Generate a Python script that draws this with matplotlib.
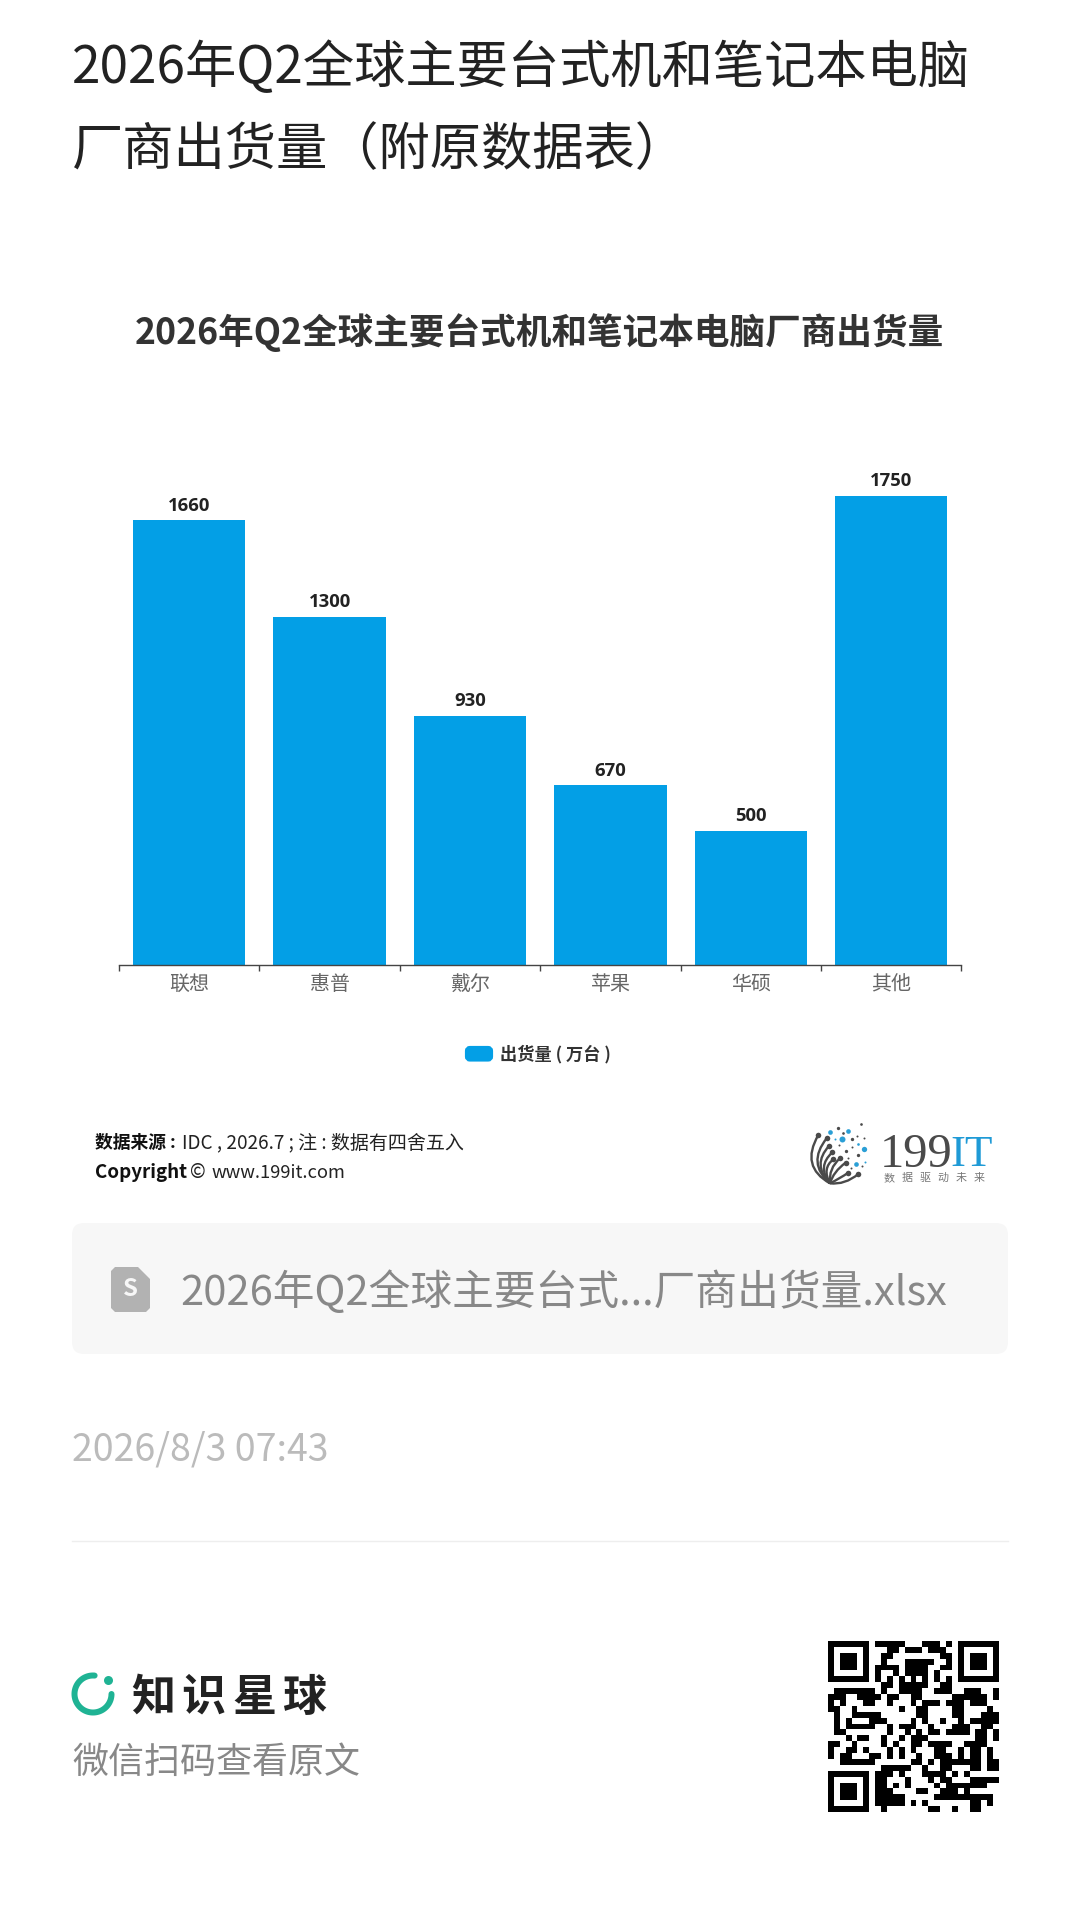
from matplotlib import pyplot as plt
from matplotlib.patches import FancyBboxPatch, PathPatch, Polygon
from matplotlib.path import Path
import numpy as np

plt.rcParams['font.family'] = ['Noto Sans CJK SC', 'DejaVu Sans']

# chart data
vendors = ["联想", "惠普", "戴尔", "苹果", "华硕", "其他"]
shipments = [1660, 1300, 930, 670, 500, 1750]
series_name = "出货量 ( 万台 )"
chart_title = "2026年Q2全球主要台式机和笔记本电脑厂商出货量"
page_title = ["2026年Q2全球主要台式机和笔记本电脑", "厂商出货量（附原数据表）"]

BLUE = "#039fe6"
# rcParams sizes are points, page is laid out in pixels at dpi 100
PT = 0.72

# QR modules
qr_rows = [
    "11111110111110001110101111111",
    "10000010001101110111001000001",
    "10111010011000000001101011101",
    "10111010010001111100110101110"[:21] + "01011101",
    "10111010111101111001101011101",
    "10000010100101111010001000001"[:22] + "1000001",
    "11111110101010101010101111111"[:22] + "1111111",
    "00000000011011111001100000000",
    "01111111010011110011100111001",
    "11100111101100110000011111101",
    "10100011001000101110111011100",
    "11001000000010011000011000010",
    "01001111100000011000011000111",
    "01010001110000101001001011111",
    "01011111001011100100011100110",
    "01100000001001010110111101101",
    "00010110010010111000000001101",
    "11001000010100110111100111100",
    "10011010001010100011001011010",
    "10110001101010010011101011010",
    "00111111000000110101111111011",
    "00000000011111001001100011011"[:29],
    "11111110111010001111010100000",
    "10000010110001000101100011111",
    "10111010110101000010111111100",
    "10111010111000011001110100000",
    "10111010111110000011111111110",
    "10000010111110101000000011010",
    "11111110010000000110010011000",
]
qr = np.array([[int(c) for c in row] for row in qr_rows])

# logo dots as (x, y, size) in the logo's own little grid
logo_blue = [(150, 95, 7), (205, 93, 7), (185, 118, 9), (165, 118, 3), (253, 148, 8),
             (228, 193, 7), (235, 133, 4), (255, 185, 3)]
logo_dark = [(175, 85, 5), (243, 72, 4), (188, 100, 4), (215, 117, 5), (230, 107, 3),
             (252, 113, 3), (178, 135, 3), (217, 140, 3), (198, 152, 5), (233, 166, 5),
             (205, 175, 3), (245, 198, 3), (212, 205, 3)]
logo_stems = [(115, 105, 60, 200), (140, 115, 80, 190), (147, 138, 95, 195), (157, 157, 110, 200),
              (160, 178, 125, 205), (180, 175, 145, 205), (197, 188, 160, 215), (205, 218, 180, 235),
              (235, 222, 195, 255)]
logo_sub = "数据驱动未来"

fig = plt.figure(figsize=(10.8, 19.11), dpi=100, facecolor="white")

# page layer in pixel coordinates
page = fig.add_axes([0, 0, 1, 1])
page.axis("off")

page.text(72, 68, page_title[0], fontsize=51.3 * PT, color="#222222", va="center", ha="left")
page.text(72, 150, page_title[1], fontsize=51.3 * PT, color="#222222", va="center", ha="left")
page.text(539.5, 333, chart_title, fontsize=35.6 * PT, color="#333333", weight="bold", va="center", ha="center")

# legend
page.add_patch(FancyBboxPatch((467, 1048), 24, 11.5, boxstyle="round,pad=0,rounding_size=3", fc=BLUE, ec=BLUE, lw=3))
page.text(500, 1054, series_name, fontsize=17.2 * PT, color="#333333", weight="bold", va="center", ha="left")

# source note
page.text(95, 1143, "数据来源 :", fontsize=17.8 * PT, color="#111111", weight="bold", va="center")
page.text(182, 1143, "IDC , 2026.7 ; 注 : 数据有四舍五入", fontsize=19 * PT, color="#222222", va="center")
page.text(95, 1173, "Copyright", fontsize=18.8 * PT, color="#111111", weight="bold", va="center")
page.text(190, 1173, "©", fontsize=18.8 * PT, color="#222222", va="center")
page.text(212, 1173, "www.199it.com", fontsize=18.3 * PT, color="#222222", va="center")

# 199IT logo
for x, y, s in logo_blue:
    page.scatter(780 + x / 3, 1100 + y / 3, s=(s * 2 / 3 * PT) ** 2, color="#2a9fd6", lw=0, zorder=3)
for x, y, s in logo_dark:
    page.scatter(780 + x / 3, 1100 + y / 3, s=(s * 2 / 3 * PT) ** 2, color="#4a4a4a", lw=0, zorder=3)
for x, y, cx, cy in logo_stems:
    verts = [(780 + x / 3, 1100 + y / 3), (780 + cx / 3, 1100 + cy / 3), (780 + 150 / 3, 1100 + 250 / 3)]
    page.add_patch(PathPatch(Path(verts, [Path.MOVETO, Path.CURVE3, Path.CURVE3]), fc="none", ec="#4a4a4a", lw=1.7))
    page.scatter(verts[0][0], verts[0][1], s=16, color="#4a4a4a", lw=0, zorder=3)
page.text(880, 1155, "199", fontsize=48.5 * PT, color="#4a4a4a", family="Liberation Serif", va="center", ha="left")
page.text(950, 1155, "IT", fontsize=45 * PT, color="#1f9ad6", family="Liberation Serif", va="center", ha="left")
for i, ch in enumerate(logo_sub):
    page.text(889 + i * 18, 1178, ch, fontsize=11 * PT, color="#777777", va="center", ha="center")

# attachment card
page.add_patch(FancyBboxPatch((72, 1223), 936, 131, boxstyle="round,pad=0,rounding_size=12", fc="#f7f7f7", ec="none"))
page.add_patch(Polygon([(115, 1267), (138, 1267), (150, 1279), (150, 1308), (146, 1312), (115, 1312), (111, 1308), (111, 1271)],
                       closed=True, fc="#b2b2b2", ec="none"))
page.text(130.5, 1289, "S", fontsize=24 * PT, color="#f7f7f7", weight="bold", va="center", ha="center")
page.text(180, 1292, "2026年Q2全球主要台式...厂商出货量.xlsx", fontsize=41.7 * PT, color="#888888", va="center", ha="left")

page.text(72, 1450, "2026/8/3 07:43", fontsize=37.5 * PT, color="#bbbbbb", va="center", ha="left")
page.plot([72, 1008], [1541, 1541], color="#eeeeee", lw=1)

# knowledge planet logo
t = np.radians(np.linspace(85, 360, 80))
page.plot(93 + 18.5 * np.cos(t), 1694 - 18.5 * np.sin(t), color="#1fb394", lw=6 * PT, solid_capstyle="round")
page.scatter(107.5, 1680, s=(9 * PT) ** 2, color="#1fb394", lw=0)
for ch, x in zip("知识星球", [153, 203, 254, 304]):
    page.text(x, 1698, ch, fontsize=44 * PT, color="#222222", weight="bold", va="center", ha="center")
page.text(72, 1763, "微信扫码查看原文", fontsize=36 * PT, color="#888888", va="center", ha="left")

page.imshow(1 - qr, cmap="gray", extent=(828, 999, 1812, 1641), interpolation="nearest", aspect="auto", vmin=0, vmax=1)
page.set_xlim(0, 1080)
page.set_ylim(1911, 0)

# bar chart, axes box runs from the axis line up to the tallest bar
ax = fig.add_axes([119 / 1080, 1 - 965 / 1911, (961.5 - 119) / 1080, 469 / 1911])
ax.patch.set_alpha(0)
xpos = np.arange(len(vendors)) + 0.5
bars = ax.bar(xpos, shipments, width=0.8, color=BLUE)
ax.set_xlim(0, len(vendors))
ax.set_ylim(0, max(shipments))
for b, v in zip(bars, shipments):
    ax.annotate(str(v), (b.get_x() + b.get_width() / 2, v), xytext=(0, 4), textcoords="offset points",
                ha="center", va="bottom", fontsize=18.5 * PT, weight="bold", color="#222222",
                family=["Open Sans", "DejaVu Sans"], annotation_clip=False)

for s in ["top", "left", "right"]:
    ax.spines[s].set_visible(False)
ax.spines["bottom"].set_color("#444444")
ax.spines["bottom"].set_linewidth(1)
ax.set_yticks([])
ax.set_xticks(np.arange(len(vendors) + 1))
ax.tick_params(axis="x", which="major", length=4, width=1, color="#444444", labelbottom=False)
ax.set_xticks(xpos, minor=True)
ax.set_xticklabels(vendors, minor=True, fontsize=20 * PT, color="#666666")
ax.tick_params(axis="x", which="minor", length=0, pad=6.5, labelbottom=True)

fig.savefig("out.png", dpi=100)
